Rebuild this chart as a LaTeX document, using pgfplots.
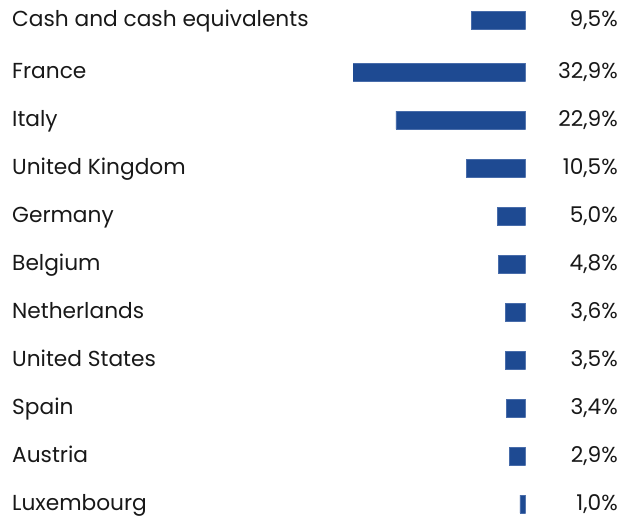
\documentclass[border=0pt]{standalone}
\usepackage{pgfplots}
\pgfplotsset{compat=1.18}
\usepackage{fontspec}
\setmainfont{Poppins}
\definecolor{barblue}{RGB}{30,74,146}
\definecolor{barline}{RGB}{72,108,170}
\definecolor{txt}{RGB}{24,24,24}
\begin{document}
\begin{tikzpicture}[x=1bp,y=1bp]
\useasboundingbox (0,0) rectangle (636,-519);
% bars: x = share (%), y = row centre in px from top; France is cut at xmax like the source
\begin{axis}[
  at={(525.5bp,0bp)}, anchor=north east,
  width=172.5bp, height=519bp, scale only axis,
  xmin=0, xmax=30.5, x dir=reverse,
  ymin=0, ymax=519, y dir=reverse,
  hide x axis, hide y axis,
  xbar, bar width=18bp,
]
\addplot[fill=barblue, draw=barline, line width=0.6bp]
  coordinates {(9.5,20) (32.9,72) (22.9,120) (10.5,168) (5.0,216) (4.8,264)
               (3.6,312) (3.5,360) (3.4,408) (2.9,456) (1.0,504)};
\end{axis}
\foreach \y/\name/\val in {20/Cash and cash equivalents/{9,5\%}, 72/France/{32,9\%},
    120/Italy/{22,9\%}, 168/United Kingdom/{10,5\%}, 216/Germany/{5,0\%},
    264/Belgium/{4,8\%}, 312/Netherlands/{3,6\%}, 360/United States/{3,5\%},
    408/Spain/{3,4\%}, 456/Austria/{2,9\%}, 504/Luxembourg/{1,0\%}} {
  \node[anchor=base west, inner sep=0, font=\fontsize{21.7bp}{26bp}\selectfont, text=txt]
    at (12,-\y-6.7) {\name};
  \node[anchor=base east, inner sep=0, font=\fontsize{21.7bp}{26bp}\selectfont, text=txt]
    at (618,-\y-6.7) {\val};
}
\end{tikzpicture}
\end{document}
